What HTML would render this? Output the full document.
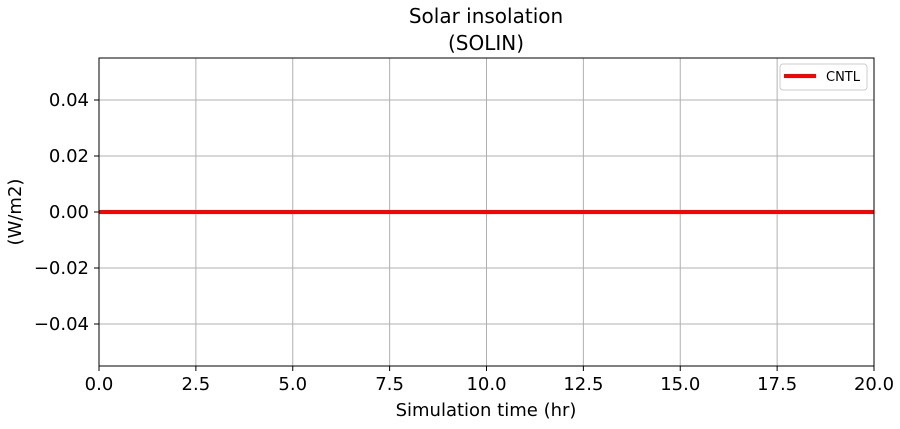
<!DOCTYPE html>
<html><head><meta charset="utf-8"><style>
body{margin:0;background:#fff;}
svg text{font-family:"DejaVu Sans","Liberation Sans",sans-serif;fill:#000;}
</style></head><body>
<svg id="chart" width="900" height="424" viewBox="0 0 900 424">
<g id="grid"></g>
<g id="series"></g>
<rect x="99" y="58" width="775" height="308" fill="none" stroke="#000" stroke-width="1"/>
<g id="xticks"></g>
<g id="yticks"></g>
<text x="486" y="23" font-size="20" text-anchor="middle">Solar insolation</text>
<text x="486" y="50" font-size="20" text-anchor="middle">(SOLIN)</text>
<text x="486" y="416" font-size="18" text-anchor="middle">Simulation time (hr)</text>
<text x="21" y="212" font-size="18" text-anchor="middle" transform="rotate(-90 21 212)">(W/m2)</text>
<g>
<rect x="780" y="64" width="87" height="26" rx="3" fill="#fff" stroke="#ccc"/>
<line x1="784" y1="76" x2="816" y2="76" stroke="#ff0000" stroke-width="4"/>
<text x="826" y="81" font-size="13">CNTL</text>
</g>
</svg>
<script>
const xTicks=[0,2.5,5,7.5,10,12.5,15,17.5,20];
const xTickLabels=["0.0","2.5","5.0","7.5","10.0","12.5","15.0","17.5","20.0"];
const yTicks=[-0.04,-0.02,0,0.02,0.04];
const yTickLabels=["\u22120.04","\u22120.02","0.00","0.02","0.04"];
const times=[0,1,2,3,4,5,6,7,8,9,10,11,12,13,14,15,16,17,18,19,20];
const cntl=[0,0,0,0,0,0,0,0,0,0,0,0,0,0,0,0,0,0,0,0,0];
const X=v=>99+(v-0)/20*775;
const Y=v=>212-v*2800;
const NS="http://www.w3.org/2000/svg";
function mk(t,a,p){const e=document.createElementNS(NS,t);for(const k in a)e.setAttribute(k,a[k]);p.appendChild(e);return e;}
const grid=document.getElementById('grid'),xt=document.getElementById('xticks'),yt=document.getElementById('yticks'),ser=document.getElementById('series');
xTicks.forEach((v,i)=>{
 const g=mk('line',{x1:X(v),x2:X(v),y1:58,y2:366,stroke:'#b0b0b0','stroke-width':1},grid);
 
 
 const t=mk('line',{x1:X(v),x2:X(v),y1:366,y2:371,stroke:'#000'},xt);
 
 
 const l=mk('text',{x:X(v),y:390,'font-size':18,'text-anchor':'middle'},xt);l.textContent=xTickLabels[i];
 
 
});
yTicks.forEach((v,i)=>{
 const g=mk('line',{x1:99,x2:874,y1:Y(v),y2:Y(v),stroke:'#b0b0b0','stroke-width':1},grid);
 
 
 const t=mk('line',{x1:94,x2:99,y1:Y(v),y2:Y(v),stroke:'#000'},yt);
 
 
 const l=mk('text',{x:89,y:Y(v)+6,'font-size':18,'text-anchor':'end'},yt);l.textContent=yTickLabels[i];
 
 
});
const p=mk('polyline',{points:times.map((t,i)=>X(t)+','+Y(cntl[i])).join(' '),fill:'none',stroke:'#ff0000','stroke-width':4},ser);


</script>
</body></html>
